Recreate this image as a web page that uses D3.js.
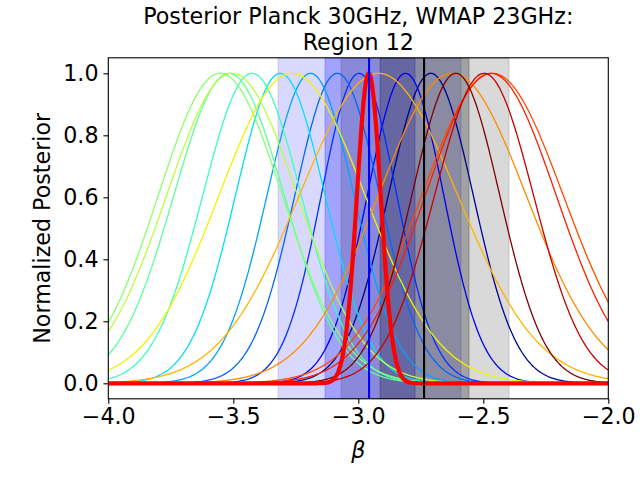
<!DOCTYPE html>
<html>
<head>
<meta charset="utf-8">
<script src="https://cdn.jsdelivr.net/npm/d3@7"></script>
<style>
body{margin:0;background:#fff;}
text{font-family:'DejaVu Sans',sans-serif;}
</style>
</head>
<body>
<div id="canvas"></div>
<script>
// posterior peaks (beta), half width at half max, and line colours
var curvePeaks  = [-2.710,-2.811,-2.997,-3.084,-3.191,-3.312,-3.425,-3.517,-3.552,-3.505,-3.265,-2.919,-2.624,-2.463,-2.470,-2.497,-2.610];
var curveHalfW  = [ 0.200, 0.180, 0.178, 0.200, 0.205, 0.211, 0.232, 0.260, 0.292, 0.308, 0.344, 0.373, 0.348, 0.333, 0.308, 0.233, 0.207];
var curveColors = ['#000090','#0000ee','#0030ff','#0066ff','#00a2ff','#00e0f4','#3cffbb','#5cff9a','#88ff70','#b8ff3f','#f2f200','#ffb400','#ff8c00','#ff4a00','#ff1e00','#c40000','#800000'];

// combined posterior (thick red)
var combPeak = -2.958, combHalfW = 0.056;

// vertical markers and shaded intervals
var bluePeak = -2.957, blackPeak = -2.737;
var blueBands  = [[-3.321,-2.589],[-3.133,-2.773]];
var blueAlpha  = [0.15, 0.25];
var greyBands  = [[-3.069,-2.397],[-2.913,-2.557]];
var greyAlpha  = [0.15, 0.25];

var xTicks = [-4.0,-3.5,-3.0,-2.5,-2.0];
var yTicks = [0.0,0.2,0.4,0.6,0.8,1.0];

var W = 640, H = 480;
var m = {t:57.8, r:31.7, b:81.2, l:108.3},
    w = W - m.l - m.r,
    h = H - m.t - m.b;

var svg = d3.select('#canvas')
    .append('svg')
    .attr('width', W)
    .attr('height', H);

var plot = svg.append('g')
    .attr('transform','translate('+m.l+','+m.t+')');

var x = d3.scaleLinear().domain([-4,-2]).range([0,w]);
var y = d3.scaleLinear().domain([-0.05,1.05]).range([h,0]);

plot.append('clipPath').attr('id','clip')
    .append('rect').attr('width',w).attr('height',h);

var inner = plot.append('g').attr('clip-path','url(#clip)');

//shaded intervals
function band(d,i,col,alpha){
    inner.append('rect')
        .attr('x',x(d[0])).attr('width',x(d[1])-x(d[0]))
        .attr('y',0).attr('height',h)
        .style('fill',col).style('fill-opacity',alpha)
        .style('stroke',col).style('stroke-opacity',alpha).style('stroke-width',1);
}
blueBands.forEach(function(d,i){ band(d,i,'blue',blueAlpha[i]); });
greyBands.forEach(function(d,i){ band(d,i,'black',greyAlpha[i]); });

//posterior profile through peak and half width
var grid = d3.range(-4,-1.999,0.005);
function profile(p,hw){
    var s = hw/Math.sqrt(2*Math.log(2));
    return grid.map(function(b){ return [b, Math.exp(-(b-p)*(b-p)/(2*s*s))]; });
}
var line = d3.line()
    .x(function(d){return x(d[0]);})
    .y(function(d){return y(d[1]);});

curvePeaks.forEach(function(p,i){
    inner.append('path')
        .datum(profile(p,curveHalfW[i]))
        .attr('d',line)
        .style('fill','none')
        .style('stroke',curveColors[i])
        .style('stroke-width',1.3);
});

inner.append('path')
    .datum(profile(combPeak,combHalfW))
    .attr('d',line)
    .style('fill','none')
    .style('stroke','red')
    .style('stroke-width',4.2)
    .style('stroke-linejoin','round');

inner.append('line')
    .attr('x1',x(bluePeak)).attr('x2',x(bluePeak))
    .attr('y1',0).attr('y2',h)
    .style('stroke','blue').style('stroke-width',2.1);
inner.append('line')
    .attr('x1',x(blackPeak)).attr('x2',x(blackPeak))
    .attr('y1',0).attr('y2',h)
    .style('stroke','black').style('stroke-width',2.1);

//axes
var fmt = function(d){ return d3.format('.1f')(d).replace('-','\u2212'); };
var xAxis = plot.append('g')
    .attr('transform','translate(0,'+h+')')
    .call(d3.axisBottom(x).tickValues(xTicks).tickFormat(fmt).tickSize(4.9).tickPadding(4.9));
var yAxis = plot.append('g')
    .call(d3.axisLeft(y).tickValues(yTicks).tickFormat(fmt).tickSize(4.9).tickPadding(4.9));
[xAxis,yAxis].forEach(function(a){
    a.select('.domain').remove();
    a.selectAll('line').style('stroke','#000').style('stroke-width',1.1);
    a.selectAll('text').style('font-family','DejaVu Sans').style('font-size','22.2px').style('fill','#000');
});

plot.append('rect')
    .attr('width',w).attr('height',h)
    .style('fill','none').style('stroke','#000').style('stroke-width',1.1);

//labels
svg.append('text')
    .attr('x',m.l+w/2).attr('y',24)
    .attr('text-anchor','middle').style('font-size','22.2px')
    .text('Posterior Planck 30GHz, WMAP 23GHz:');
svg.append('text')
    .attr('x',m.l+w/2).attr('y',50)
    .attr('text-anchor','middle').style('font-size','22.2px')
    .text('Region 12');

svg.append('text')
    .attr('x',m.l+w/2).attr('y',458)
    .attr('text-anchor','middle').style('font-size','22.2px').style('font-style','italic')
    .text('β');

svg.append('text')
    .attr('transform','translate(50,'+(m.t+h/2)+') rotate(-90)')
    .attr('text-anchor','middle').style('font-size','22.2px')
    .text('Normalized Posterior');
</script>
</body>
</html>
